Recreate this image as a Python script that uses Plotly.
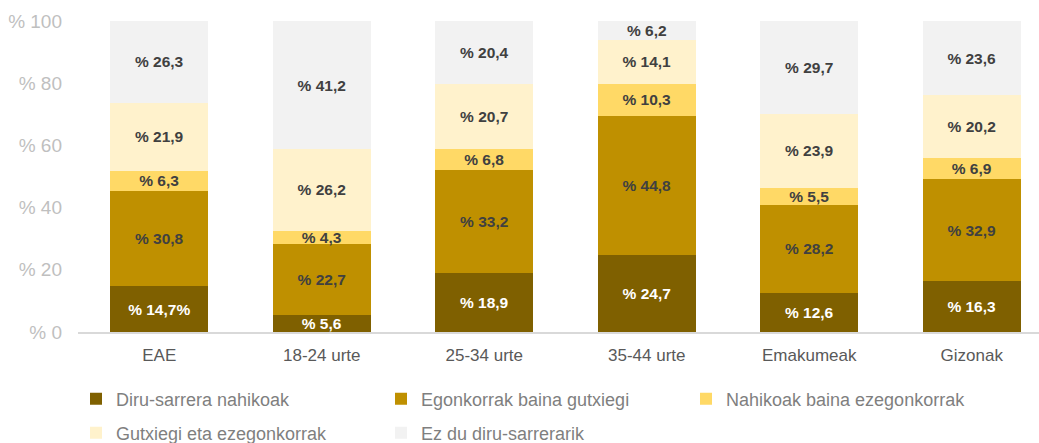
import plotly.graph_objects as go

categories = ["EAE", "18-24 urte", "25-34 urte", "35-44 urte", "Emakumeak", "Gizonak"]
series_names = [
    "Diru-sarrera nahikoak",
    "Egonkorrak baina gutxiegi",
    "Nahikoak baina ezegonkorrak",
    "Gutxiegi eta ezegonkorrak",
    "Ez du diru-sarrerarik",
]
diru_sarrera_nahikoak = [14.7, 5.6, 18.9, 24.7, 12.6, 16.3]
egonkorrak_gutxiegi = [30.8, 22.7, 33.2, 44.8, 28.2, 32.9]
nahikoak_ezegonkorrak = [6.3, 4.3, 6.8, 10.3, 5.5, 6.9]
gutxiegi_ezegonkorrak = [21.9, 26.2, 20.7, 14.1, 23.9, 20.2]
ez_du_diru_sarrerarik = [26.3, 41.2, 20.4, 6.2, 29.7, 23.6]
y_tick_values = [0, 20, 40, 60, 80, 100]
y_tick_labels = ["% 0", "% 20", "% 40", "% 60", "% 80", "% 100"]

series_values = [
    diru_sarrera_nahikoak,
    egonkorrak_gutxiegi,
    nahikoak_ezegonkorrak,
    gutxiegi_ezegonkorrak,
    ez_du_diru_sarrerarik,
]
colors = ["#7F6000", "#BF9000", "#FFD966", "#FFF2CC", "#F2F2F2"]
text_colors = ["#FFFFFF", "#404040", "#404040", "#404040", "#404040"]


def fmt(v):
    return "% " + f"{v:.1f}".replace(".", ",")


labels = [[fmt(v) for v in vals] for vals in series_values]
labels[0][0] = labels[0][0] + "%"  # as in the original: "% 14,7%"

FONT = "Arial, 'Liberation Sans', sans-serif"

fig = go.Figure()
for i, (name, vals) in enumerate(zip(series_names, series_values)):
    fig.add_trace(go.Bar(
        x=categories,
        y=vals,
        name=name,
        marker=dict(color=colors[i], line=dict(width=0)),
        text=labels[i],
        textposition="inside",
        insidetextanchor="middle",
        textangle=0,
        constraintext="none",
        textfont=dict(family=FONT, size=15.5, color=text_colors[i], weight="bold"),
        width=0.603,
        legend="legend" if i < 3 else "legend2",
        hoverinfo="skip",
    ))

W, H = 1039, 443
ml, mr, mt, mb = 78, 0, 21, 111


def cx(p):
    return p / W


def cy(p):
    return (H - p) / H


legend_common = dict(
    orientation="h",
    xref="container",
    yref="container",
    xanchor="left",
    yanchor="middle",
    font=dict(family=FONT, size=18, color="#7F7F7F"),
    entrywidth=260,
    entrywidthmode="pixels",
    bgcolor="rgba(0,0,0,0)",
    traceorder="normal",
)

fig.update_layout(
    width=W,
    height=H,
    autosize=False,
    barmode="stack",
    plot_bgcolor="white",
    paper_bgcolor="white",
    margin=dict(l=ml, r=mr, t=mt, b=mb, pad=0, autoexpand=False),
    font=dict(family=FONT),
    uniformtext=dict(minsize=15.5, mode="show"),
    legend=dict(x=cx(76), y=cy(399), **legend_common),
    legend2=dict(x=cx(76), y=cy(433), **legend_common),
    showlegend=True,
    xaxis=dict(
        range=[-0.5, 5.414],
        automargin=False,
        showline=True,
        linecolor="#D9D9D9",
        linewidth=1.5,
        ticks="",
        tickfont=dict(family=FONT, size=17, color="#595959"),
        ticklabelstandoff=7,
        showgrid=False,
        zeroline=False,
    ),
    yaxis=dict(
        range=[0, 100],
        automargin=False,
        tickvals=y_tick_values,
        ticktext=y_tick_labels,
        tickfont=dict(family=FONT, size=19, color="#BFBFBF"),
        ticks="",
        ticklabelstandoff=15,
        showgrid=False,
        zeroline=False,
        showline=False,
    ),
)

fig.write_html(
    "out.html",
    config={"displayModeBar": False},
    post_script="document.body.style.margin='0';document.body.style.overflow='hidden';",
)
